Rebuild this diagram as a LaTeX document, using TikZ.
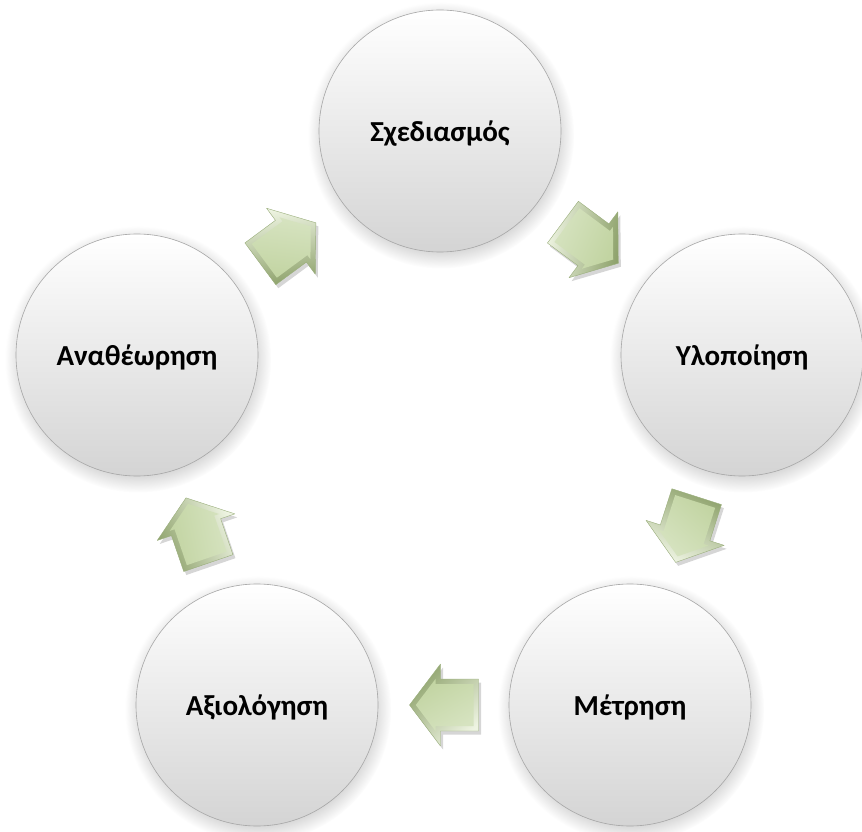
\documentclass[tikz,border=0pt]{standalone}
\usepackage{fontspec}
\setmainfont{Carlito}
\usetikzlibrary{shadows,calc}
\definecolor{circedge}{HTML}{A6A6A6}
\definecolor{circbot}{HTML}{D4D4D4}
\definecolor{arrhi}{HTML}{EEF4E2}
\definecolor{arrlight}{HTML}{D6E3C0}
\definecolor{arrmid}{HTML}{C2D4A2}
\definecolor{arrdark}{HTML}{8FA36D}
\definecolor{arredge}{HTML}{9AAE7C}
\tikzset{
  stage/.style={circle, minimum size=242pt, inner sep=0pt, text depth=0pt,
    top color=white, bottom color=circbot, draw=circedge, line width=0.6pt,
    circular drop shadow={shadow xshift=1pt, shadow yshift=-4pt, opacity=0.35},
    font=\fontsize{29}{34}\selectfont\bfseries, text=black},
  arrshadow/.style={fill=black, opacity=0.16},
  arrbevel/.style={draw=arredge, line width=0.4pt, line join=round}
}
\def\arrowouter{(-35,-26) -- (3,-26) -- (3,-41) -- (34,0) -- (3,41) -- (3,26) -- (-35,26) -- cycle}
\def\arrowinner{(-30,-21) -- (8,-21) -- (8,-26.05) -- (27.7,0) -- (8,26.05) -- (8,21) -- (-30,21) -- cycle}
\newcommand\cyclearrow[3]{%
  \path let \p1=($(#2)-(#1)$), \n1={atan2(\y1,\x1)} in
    coordinate (#3) at ($(#1)!0.5!(#2)$) \pgfextra{\xdef\arrang{\n1}};
  \pgfmathsetmacro\shangA{45-\arrang}%
  \pgfmathsetmacro\shangB{30-\arrang}%
  \begin{scope}[shift={($(#3)+(2.5,-3.5)$)}, rotate=\arrang]
    \fill[arrshadow] \arrowouter;
  \end{scope}
  \begin{scope}[shift={(#3)}, rotate=\arrang]
    \path[arrbevel, top color=arrhi, bottom color=arrdark, shading angle=\shangA] \arrowouter;
    \path[top color=arrlight, bottom color=arrmid, shading angle=\shangB] \arrowinner;
  \end{scope}}
\begin{document}
\begin{tikzpicture}[x=1pt,y=1pt]
\useasboundingbox (0,0) rectangle (862,831);
\node[stage] (T)  at (440,700) {Σχεδιασμός};
\node[stage] (R)  at (742,476) {Υλοποίηση};
\node[stage] (BR) at (630,126) {Μέτρηση};
\node[stage] (BL) at (257,126) {Αξιολόγηση};
\node[stage] (L)  at (137,476) {Αναθέωρηση};
\cyclearrow{T}{R}{a1}
\cyclearrow{R}{BR}{a2}
\cyclearrow{BR}{BL}{a3}
\cyclearrow{BL}{L}{a4}
\cyclearrow{L}{T}{a5}
\end{tikzpicture}
\end{document}
